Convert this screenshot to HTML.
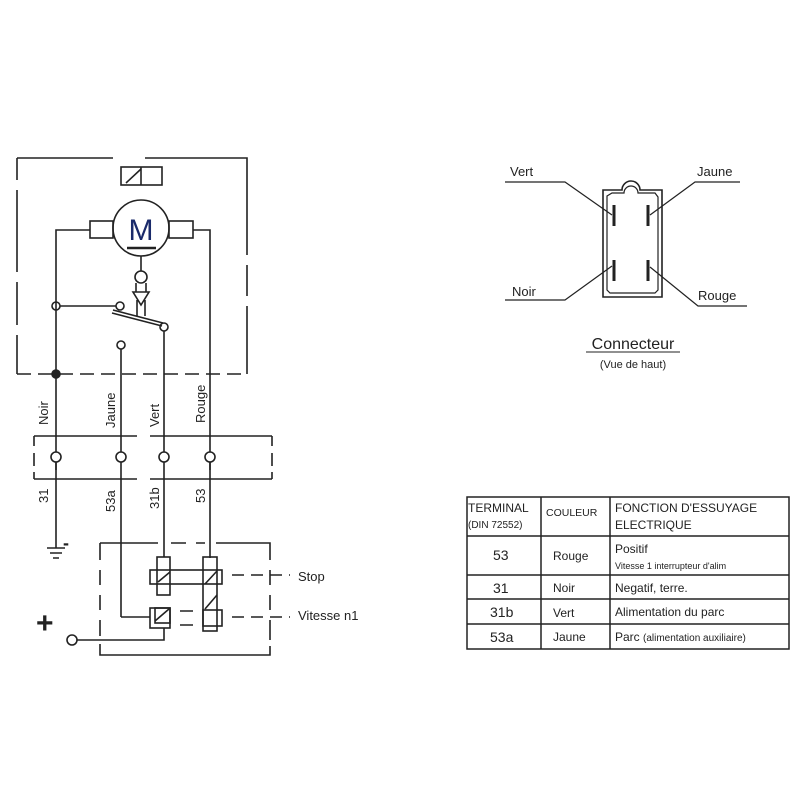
<!DOCTYPE html>
<html><head><meta charset="utf-8"><style>
html,body{margin:0;padding:0;background:#fff;}
svg{display:block;}
text{font-family:"Liberation Sans",sans-serif;fill:#222;}
</style></head><body>
<svg width="800" height="800" viewBox="0 0 800 800" xmlns="http://www.w3.org/2000/svg">
<g fill="none" stroke="#222" stroke-width="1.6">
<!-- top dashed box -->
<path d="M17 158 H113 M145 158 H247 V255 M247 265 V296 M247 306 V374 M17 374 V335 M17 325 V282 M17 272 V190 M17 180 V158"/>
<path d="M17 374 H247" stroke-dasharray="14 7"/>
<!-- relay small -->
<rect x="121" y="167" width="41" height="18"/>
<line x1="126" y1="183" x2="141" y2="169"/><line x1="141" y1="167" x2="141" y2="185"/>
<!-- motor -->
<circle cx="141" cy="228" r="28"/>
<rect x="90" y="221" width="23" height="17"/>
<rect x="169" y="221" width="24" height="17"/>
<line x1="127" y1="248" x2="156" y2="248" stroke-width="2.5"/>
<path d="M90 230 H56 V470 M193 230 H210 V470"/>
<line x1="141" y1="256" x2="141" y2="271"/>
<circle cx="141" cy="277" r="6"/>
<path d="M136 283 V292 M146 283 V292 M133 292 H149 L141 305 Z M137 300 V316 M145 300 V316"/>
<!-- switch -->
<circle cx="56" cy="306" r="4"/>
<line x1="60" y1="306" x2="116" y2="306"/>
<circle cx="120" cy="306" r="4"/>
<path d="M112 313 L162 326 M113 310 L163 323"/>
<circle cx="164" cy="327" r="4"/>
<line x1="164" y1="331" x2="164" y2="570"/>
<circle cx="121" cy="345" r="4"/>
<line x1="121" y1="349" x2="121" y2="617"/>
<circle cx="56" cy="374" r="4" fill="#222"/>
<!-- connector band -->
<path d="M34 436 H137 M150 436 H272 M34 479 H137 M150 479 H272 M34 436 V446 M34 453 V466 M34 472 V479 M272 436 V446 M272 453 V466 M272 472 V479"/>
<g fill="#fff"><circle cx="56" cy="457" r="5"/><circle cx="121" cy="457" r="5"/><circle cx="164" cy="457" r="5"/><circle cx="210" cy="457" r="5"/></g>
<line x1="56" y1="462" x2="56" y2="548"/>
<line x1="210" y1="462" x2="210" y2="558"/>
<path d="M47 548 H65 M50 553 H62 M53 558 H59"/>
<!-- lower box -->
<path d="M100 543 H158 M171 543 H186 M196 543 H205 M216 543 H270 V560 M270 570 V585 M270 595 V610 M270 620 V640 M270 646 V655 H100 V644 M100 636 V620 M100 610 V595 M100 585 V570 M100 560 V543"/>
<rect x="157" y="557" width="13" height="38" fill="#fff"/>
<rect x="150" y="570" width="72" height="14"/>
<rect x="203" y="557" width="14" height="74"/>
<path d="M158 582 L170 572 M205 584 L217 571 M205 609 L217 595"/>
<rect x="150" y="608" width="20" height="20"/>
<rect x="155" y="608" width="15" height="15"/>
<path d="M155 621 L169 609"/>
<rect x="203" y="610" width="19" height="16"/>
<path d="M121 617 H150 M180 611 H193 M180 625 H193 M77 640 H164 V628"/>
<circle cx="72" cy="640" r="5"/>
<path d="M232 575 H290" stroke-dasharray="12 7"/>
<path d="M232 617 H290" stroke-dasharray="12 7"/>
<!-- plug connector -->
<path d="M603 190 H622 A9 9 0 1 1 640 190 H662 V297 H603 Z"/>
<path d="M607 196 L612 193 H624 A7 7 0 0 1 638 193 H655 L658 197 V290 L655 293 H610 L607 290 Z" stroke-width="1.2"/>
<g stroke-width="3"><line x1="614" y1="205" x2="614" y2="226"/><line x1="648" y1="205" x2="648" y2="226"/><line x1="614" y1="260" x2="614" y2="281"/><line x1="648" y1="260" x2="648" y2="281"/></g>
<path d="M505 182 H565 L612 215 M740 182 H695 L650 215 M505 300 H565 L612 266 M747 306 H698 L650 267" stroke-width="1.2"/>
<line x1="586" y1="352" x2="680" y2="352" stroke-width="1"/>
<!-- table -->
<rect x="467" y="497" width="322" height="152" stroke-width="1.5"/>
<path d="M541 497 V649 M610 497 V649 M467 536 H789 M467 575 H789 M467 599 H789 M467 624 H789" stroke-width="1.5"/>
</g>
<text x="141" y="240" font-size="30" text-anchor="middle" style="fill:#1a2a6a">M</text>
<g font-size="13">
<text transform="translate(48,425) rotate(-90)">Noir</text>
<text transform="translate(115,428) rotate(-90)">Jaune</text>
<text transform="translate(159,427) rotate(-90)">Vert</text>
<text transform="translate(205,423) rotate(-90)">Rouge</text>
<text transform="translate(48,503) rotate(-90)">31</text>
<text transform="translate(115,512) rotate(-90)">53a</text>
<text transform="translate(159,509) rotate(-90)">31b</text>
<text transform="translate(205,503) rotate(-90)">53</text>
<text x="298" y="581">Stop</text>
<text x="298" y="620">Vitesse n1</text>
<text x="510" y="176">Vert</text>
<text x="697" y="176">Jaune</text>
<text x="512" y="296">Noir</text>
<text x="698" y="300">Rouge</text>
</g>
<text x="63" y="549" font-size="18" font-weight="bold">-</text>
<text x="36" y="633" font-size="30" font-weight="bold">+</text>
<text x="633" y="349" font-size="16" text-anchor="middle">Connecteur</text>
<text x="633" y="368" font-size="11" text-anchor="middle">(Vue de haut)</text>
<g font-size="12">
<text x="468" y="512">TERMINAL</text>
<text x="468" y="528" font-size="10">(DIN 72552)</text>
<text x="546" y="516" font-size="10.5">COULEUR</text>
<text x="615" y="512">FONCTION D'ESSUYAGE</text>
<text x="615" y="529">ELECTRIQUE</text>
<text x="493" y="560" font-size="14">53</text>
<text x="553" y="560">Rouge</text>
<text x="615" y="553">Positif</text>
<text x="615" y="569" font-size="9">Vitesse 1 interrupteur d'alim</text>
<text x="493" y="593" font-size="14">31</text>
<text x="553" y="592">Noir</text>
<text x="615" y="592">Negatif, terre.</text>
<text x="490" y="617" font-size="14">31b</text>
<text x="553" y="617">Vert</text>
<text x="615" y="616">Alimentation du parc</text>
<text x="490" y="642" font-size="14">53a</text>
<text x="553" y="641">Jaune</text>
<text x="615" y="641">Parc <tspan font-size="10">(alimentation auxiliaire)</tspan></text>
</g>
</svg>
</body></html>
